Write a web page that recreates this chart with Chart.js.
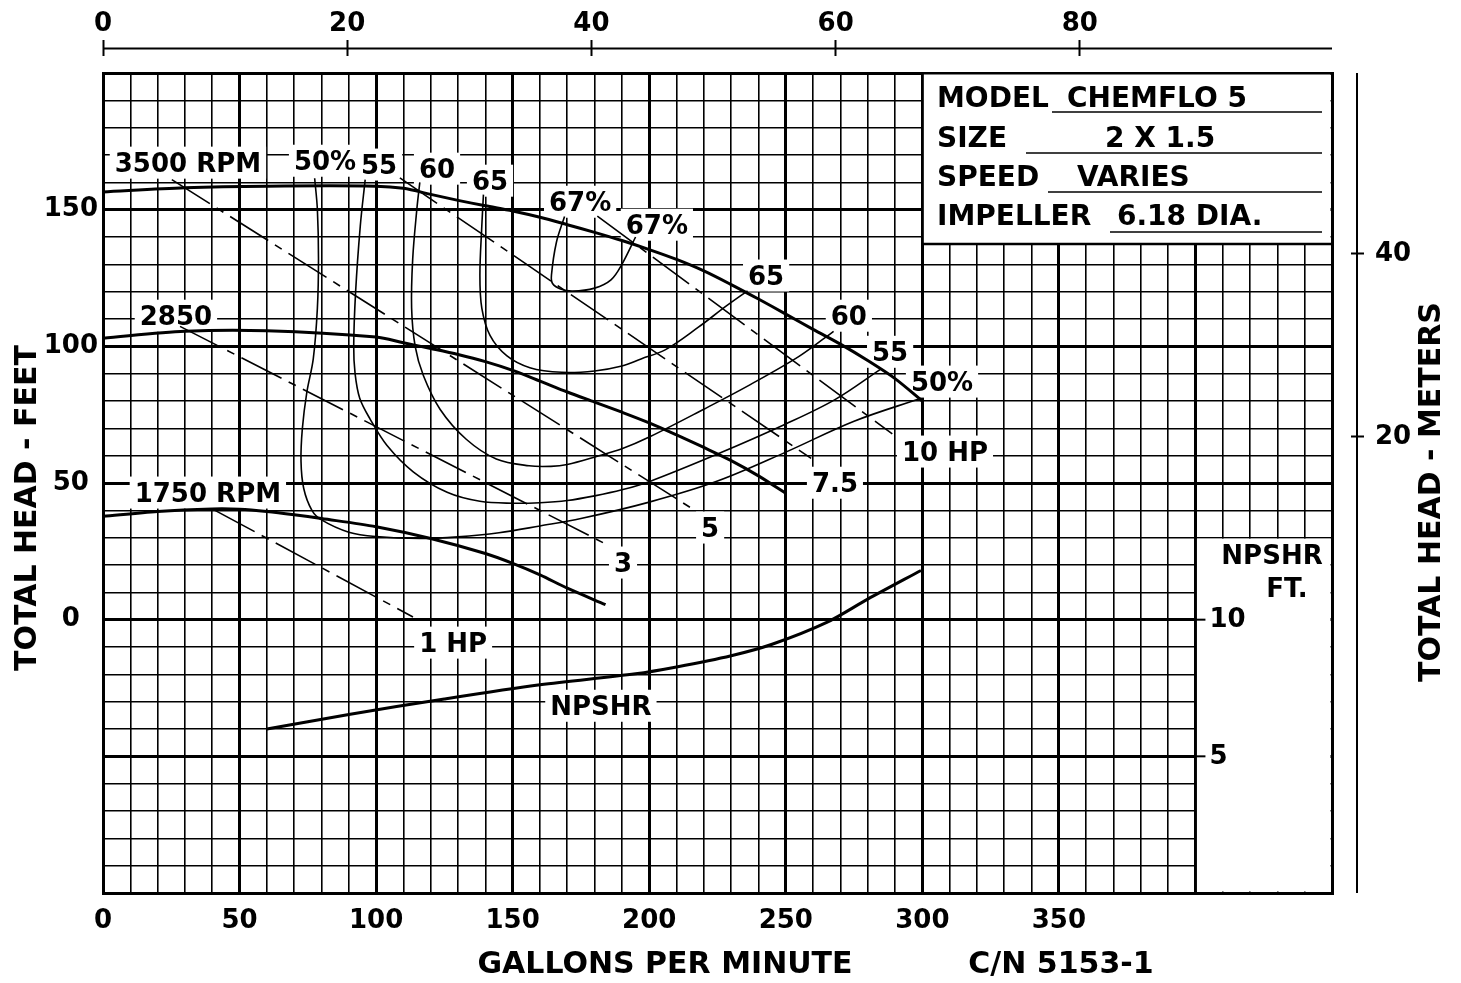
<!DOCTYPE html>
<html>
<head>
<meta charset="utf-8">
<title>CHEMFLO 5 - 2 X 1.5</title>
<script src="https://cdn.jsdelivr.net/npm/chart.js@4.4.0/dist/chart.umd.min.js"></script>
<style>
    html, body { margin: 0; padding: 0; background: #fff; }
    #wrap { width: 1461px; height: 983px; position: relative; }
</style>
</head>
<body>
<div id="wrap"><canvas id="pumpChart"></canvas></div>
<script>
// Подписи делений осей
const gpmLabels = [0, 50, 100, 150, 200, 250, 300, 350];
const feetLabels = [0, 50, 100, 150];
const m3hLabels = [0, 20, 40, 60, 80];
const meterLabels = [20, 40];
const npshrLabels = [5, 10];

// Кривые напора по оборотам: [GPM, ft]
const rpm3500 = [[0, 156.5], [30, 158], [60, 158.6], [100, 158.6], [110, 157.8], [120, 155.6], [130, 153.4],
    [140, 151.4], [150, 149.5], [160, 147.2], [170, 144.5], [180, 141.7], [190, 138.7], [200, 135.4],
    [210, 131.8], [220, 127.6], [230, 122.6], [240, 117.3], [250, 111.8], [260, 106.2], [270, 100.8],
    [280, 94.8], [290, 88.2], [300, 80]];
const rpm2850 = [[0, 103], [30, 105.5], [60, 105.7], [100, 103.4], [110, 101.3], [120, 99.2], [130, 97],
    [140, 94.4], [150, 91.2], [160, 87.3], [170, 83.3], [180, 79.6], [190, 75.9], [200, 72], [210, 67.6],
    [220, 63], [230, 58.2], [240, 52.6], [250, 46.2]];
const rpm1750 = [[0, 37.8], [20, 39.6], [40, 40.5], [50, 40.4], [60, 39.6], [70, 38.4], [80, 37],
    [100, 34], [120, 29.7], [140, 24.2], [150, 20.6], [160, 16.4], [170, 11.5], [184, 5.5]];

// Линии КПД: [GPM, ft]
const eff50 = [[77.5, 161.5], [78.5, 150], [78.9, 132], [78.5, 114], [77, 95.5], [74.6, 83], [73, 70],
    [72.5, 58], [73.5, 48], [76.5, 40], [80, 36.5], [90, 32], [100, 30.4], [116, 29.7], [130, 30.3],
    [145, 31.8], [160, 34.3], [175, 37], [200, 43], [225, 50.7], [250, 61.3], [275, 72.6], [299.5, 81]];
const eff55 = [[96, 161], [94.2, 144], [92.5, 120], [91.8, 100], [92.3, 90], [94, 81], [97.8, 73.4],
    [104, 63.7], [113.7, 54], [126, 46.6], [138, 43.3], [150, 42.6], [160, 42.8], [170, 43.6],
    [180, 45.3], [190, 47.5], [200, 50.5], [225, 60.6], [250, 71.6], [268, 80.5], [284.5, 91.5]];
const eff60 = [[116, 160], [114.9, 150], [113.4, 132], [113, 114], [114.3, 100], [117.3, 89.3],
    [123.4, 77], [133, 66], [144, 58.8], [156, 56.3], [164, 56.1], [170, 56.8], [181, 59.8],
    [190, 62.5], [200, 66.8], [220, 77], [237, 86], [255, 96.4], [267.5, 105.5]];
const eff65 = [[139.3, 155.5], [138.7, 144], [138, 126], [138.7, 114], [141.7, 104], [147.8, 96.6],
    [156.3, 92.2], [168, 90.5], [180, 91], [190, 92.8], [197, 95.4], [206, 98.8], [218, 107],
    [228, 114.6], [236, 120.3]];
const eff67 = [[169, 147.5], [166, 138], [164.2, 126], [164.6, 123], [167.5, 121], [172, 120.2],
    [180, 121.3], [186, 124.3], [190, 130], [195, 140]];

// Линии мощности: [GPM, ft]
const hp10 = [[181, 147.6], [289, 68]];
const hp75 = [[108.7, 161.6], [259.3, 59]];
const hp5 = [[25.2, 161], [217, 39.8]];
const hp3 = [[28.2, 107.3], [184.4, 27.5]];
const hp1 = [[41, 40], [113.5, 1]];

// NPSHR: [GPM, ft NPSHR]
const npshr = [[60, 6.0], [90, 6.53], [125, 7.1], [160, 7.62], [195, 8.02], [210, 8.27], [230, 8.68],
    [245, 9.1], [265, 9.9], [280, 10.75], [299.5, 11.8]];

// Подписи на поле: текст, GPM, ft
const curveLabels = [
    ['3500 RPM', 31.1, 167.2], ['2850', 26.7, 111.2], ['1750 RPM', 38.4, 46.5],
    ['50%', 81.3, 167.9], ['55', 101.1, 166.5], ['60', 122.3, 165.0], ['65', 141.7, 160.6],
    ['67%', 174.7, 152.9], ['67%', 202.8, 144.5], ['65', 242.8, 125.9], ['60', 273.1, 111.2],
    ['55', 288.2, 98.0], ['50%', 307.2, 87.1], ['10 HP', 308.3, 61.5], ['7.5', 268.0, 50.1],
    ['5', 222.3, 33.7], ['3', 190.4, 20.9], ['1 HP', 128.2, -8.4], ['NPSHR', 182.3, -31.5]
];

// Табличка
const modelRows = [['MODEL', 'CHEMFLO 5'], ['SIZE', '2 X 1.5'], ['SPEED', 'VARIES'], ['IMPELLER', '6.18 DIA.']];

const FONT = '"DejaVu Sans", "Liberation Sans", Arial, sans-serif';
const INK = '#000';

function toPoints(pairs) {
    return pairs.map(p => ({ x: p[0], y: p[1] }));
}

function curve(pairs, width, extra) {
    return Object.assign({
        data: toPoints(pairs),
        showLine: true,
        borderColor: INK,
        borderWidth: width,
        pointRadius: 0,
        pointHoverRadius: 0,
        fill: false,
        tension: 0.35
    }, extra || {});
}

function stepTicks(from, to, step) {
    const out = [];
    for (let v = from; v <= to + 1e-9; v += step) out.push({ value: v });
    return out;
}

function gridWidth(ctx) {
    return ctx.tick && Math.abs(ctx.tick.value % 50) < 1e-9 ? 3 : 1.6;
}

// Подпись с белой подложкой
function tag(ctx, text, x, y) {
    ctx.font = 'bold 26px ' + FONT;
    const w = ctx.measureText(text).width;
    ctx.fillStyle = '#fff';
    ctx.fillRect(x - w / 2 - 5, y - 16, w + 10, 32);
    ctx.fillStyle = INK;
    ctx.textAlign = 'center';
    ctx.textBaseline = 'alphabetic';
    ctx.fillText(text, x, y + 9.5);
}

function hline(ctx, x1, x2, y, w) {
    ctx.beginPath();
    ctx.lineWidth = w;
    ctx.moveTo(x1, y);
    ctx.lineTo(x2, y);
    ctx.stroke();
}

function vline(ctx, x, y1, y2, w) {
    ctx.beginPath();
    ctx.lineWidth = w;
    ctx.moveTo(x, y1);
    ctx.lineTo(x, y2);
    ctx.stroke();
}

const sheetPlugin = {
    id: 'sheet',
    beforeDraw(chart) {
        const ctx = chart.ctx;
        ctx.save();
        ctx.fillStyle = '#fff';
        ctx.fillRect(0, 0, chart.width, chart.height);
        ctx.restore();
    },
    beforeDatasetsDraw(chart) {
        const { ctx, chartArea: a, scales } = chart;
        const xs = scales.x, ys = scales.y, yn = scales.yN;
        ctx.save();
        ctx.strokeStyle = INK;

        // Табличка в правом верхнем углу
        const boxL = xs.getPixelForValue(300);
        const boxB = 244;
        ctx.fillStyle = '#fff';
        ctx.fillRect(boxL + 1.5, a.top + 1.5, a.right - boxL - 3, boxB - a.top - 1.5);
        hline(ctx, boxL, a.right, boxB, 2.5);

        const baselines = [107, 147, 186, 225];
        const valueX = [1067, 1105, 1077, 1117];
        const ruleY = [112, 153, 192, 232];
        const ruleX = [1052, 1026, 1048, 1110];
        ctx.font = 'bold 28px ' + FONT;
        ctx.fillStyle = INK;
        ctx.textAlign = 'left';
        ctx.textBaseline = 'alphabetic';
        modelRows.forEach((row, i) => {
            ctx.fillText(row[0], 937, baselines[i]);
            ctx.fillText(row[1], valueX[i], baselines[i]);
            hline(ctx, ruleX[i], 1322, ruleY[i], 1.5);
        });

        // Пустая зона под шкалой NPSHR
        const blankL = xs.getPixelForValue(400);
        const blankT = ys.getPixelForValue(30);
        ctx.fillStyle = '#fff';
        ctx.fillRect(blankL + 1.5, blankT + 1, a.right - blankL - 3, a.bottom - blankT - 2.5);

        ctx.font = 'bold 26px ' + FONT;
        ctx.fillStyle = INK;
        ctx.textAlign = 'left';
        ctx.textBaseline = 'middle';
        npshrLabels.forEach(v => {
            const py = yn.getPixelForValue(v);
            hline(ctx, blankL, blankL + 10, py, 2);
            ctx.fillText(String(v), blankL + 14, py + 1);
        });
        ctx.textAlign = 'center';
        ctx.fillText('NPSHR', 1272, 557);
        ctx.fillText('FT.', 1287, 590);

        // Подписи кривых
        curveLabels.forEach(l => {
            tag(ctx, l[0], xs.getPixelForValue(l[1]), ys.getPixelForValue(l[2]));
        });

        // Отдельные линии верхней и правой шкал
        hline(ctx, a.left, a.right, 48.5, 2);
        vline(ctx, 1357, a.top, a.bottom, 2);
        ctx.restore();
    },
    afterDraw(chart) {
        const ctx = chart.ctx;
        ctx.save();
        ctx.fillStyle = INK;
        ctx.font = 'bold 30px ' + FONT;
        ctx.textAlign = 'center';
        ctx.textBaseline = 'middle';
        ctx.fillText('GALLONS PER MINUTE', 665, 965);
        ctx.fillText('C/N 5153-1', 1061, 965);

        ctx.translate(28, 508);
        ctx.rotate(-Math.PI / 2);
        ctx.fillText('TOTAL HEAD - FEET', 0, 0);
        ctx.restore();

        ctx.save();
        ctx.fillStyle = INK;
        ctx.font = 'bold 30px ' + FONT;
        ctx.textAlign = 'center';
        ctx.textBaseline = 'middle';
        ctx.translate(1432, 492);
        ctx.rotate(-Math.PI / 2);
        ctx.fillText('TOTAL HEAD - METERS', 0, 0);
        ctx.restore();
    }
};

function createPumpChart() {
    const ctx = document.getElementById('pumpChart').getContext('2d');
    const dash = [45, 8, 8, 8];

    new Chart(ctx, {
        type: 'scatter',
        data: {
            datasets: [
                curve(rpm3500, 3, { label: '3500 RPM', tension: 0.3 }),
                curve(rpm2850, 3, { label: '2850 RPM', tension: 0.3 }),
                curve(rpm1750, 3, { label: '1750 RPM', tension: 0.3 }),
                curve(eff50, 1.6, { label: '50%' }),
                curve(eff55, 1.6, { label: '55%' }),
                curve(eff60, 1.6, { label: '60%' }),
                curve(eff65, 1.6, { label: '65%' }),
                curve(eff67, 1.6, { label: '67%' }),
                curve(hp10, 1.6, { label: '10 HP', borderDash: dash, tension: 0 }),
                curve(hp75, 1.6, { label: '7.5 HP', borderDash: dash, tension: 0 }),
                curve(hp5, 1.6, { label: '5 HP', borderDash: dash, tension: 0 }),
                curve(hp3, 1.6, { label: '3 HP', borderDash: dash, tension: 0 }),
                curve(hp1, 1.6, { label: '1 HP', borderDash: dash, tension: 0 }),
                curve(npshr, 3, { label: 'NPSHR', yAxisID: 'yN', tension: 0.3 })
            ]
        },
        options: {
            responsive: true,
            maintainAspectRatio: false,
            devicePixelRatio: 1,
            animation: false,
            layout: { padding: 0 },
            plugins: {
                legend: { display: false },
                tooltip: { enabled: false }
            },
            scales: {
                x: {
                    type: 'linear',
                    position: 'bottom',
                    min: 0,
                    max: 450,
                    afterBuildTicks: s => { s.ticks = stepTicks(0, 450, 10); },
                    afterFit: s => { s.height = 90; },
                    ticks: {
                        autoSkip: false,
                        maxRotation: 0,
                        padding: 13,
                        color: INK,
                        font: { family: FONT, size: 26, weight: 'bold' },
                        callback: v => gpmLabels.includes(v) ? String(v) : ''
                    },
                    grid: { color: INK, lineWidth: gridWidth, drawTicks: false },
                    border: { display: true, color: INK, width: 3 }
                },
                x2: {
                    type: 'linear',
                    position: 'top',
                    min: 0,
                    max: 100.65,
                    afterBuildTicks: s => { s.ticks = m3hLabels.map(v => ({ value: v })); },
                    afterFit: s => { s.height = 73; },
                    ticks: {
                        autoSkip: false,
                        maxRotation: 0,
                        padding: 0,
                        color: INK,
                        font: { family: FONT, size: 26, weight: 'bold' }
                    },
                    grid: {
                        drawOnChartArea: false,
                        drawTicks: true,
                        tickLength: 33,
                        tickWidth: 2,
                        tickColor: INK,
                        tickBorderDash: [16, 100]
                    },
                    border: { display: true, color: INK, width: 3 }
                },
                y: {
                    type: 'linear',
                    position: 'left',
                    min: -100,
                    max: 200,
                    afterBuildTicks: s => { s.ticks = stepTicks(-100, 200, 10); },
                    afterFit: s => { s.width = 103; },
                    ticks: {
                        autoSkip: false,
                        padding: 5,
                        crossAlign: 'center',
                        color: INK,
                        font: { family: FONT, size: 26, weight: 'bold' },
                        callback: v => feetLabels.includes(v) ? String(v) : ''
                    },
                    grid: { color: INK, lineWidth: gridWidth, drawTicks: false },
                    border: { display: true, color: INK, width: 3 }
                },
                y2: {
                    type: 'linear',
                    position: 'right',
                    min: -29.84,
                    max: 59.78,
                    afterBuildTicks: s => { s.ticks = meterLabels.map(v => ({ value: v })); },
                    afterFit: s => { s.width = 129; },
                    ticks: {
                        autoSkip: false,
                        padding: 11,
                        color: INK,
                        font: { family: FONT, size: 26, weight: 'bold' }
                    },
                    grid: {
                        drawOnChartArea: false,
                        drawTicks: true,
                        tickLength: 32,
                        tickWidth: 2,
                        tickColor: INK,
                        tickBorderDash: [0, 17, 14, 100]
                    },
                    border: { display: true, color: INK, width: 3 }
                },
                yN: {
                    type: 'linear',
                    display: false,
                    min: 0,
                    max: 30
                }
            }
        },
        plugins: [sheetPlugin]
    });
}

document.addEventListener('DOMContentLoaded', function() {
    createPumpChart();
});
</script>
</body>
</html>
